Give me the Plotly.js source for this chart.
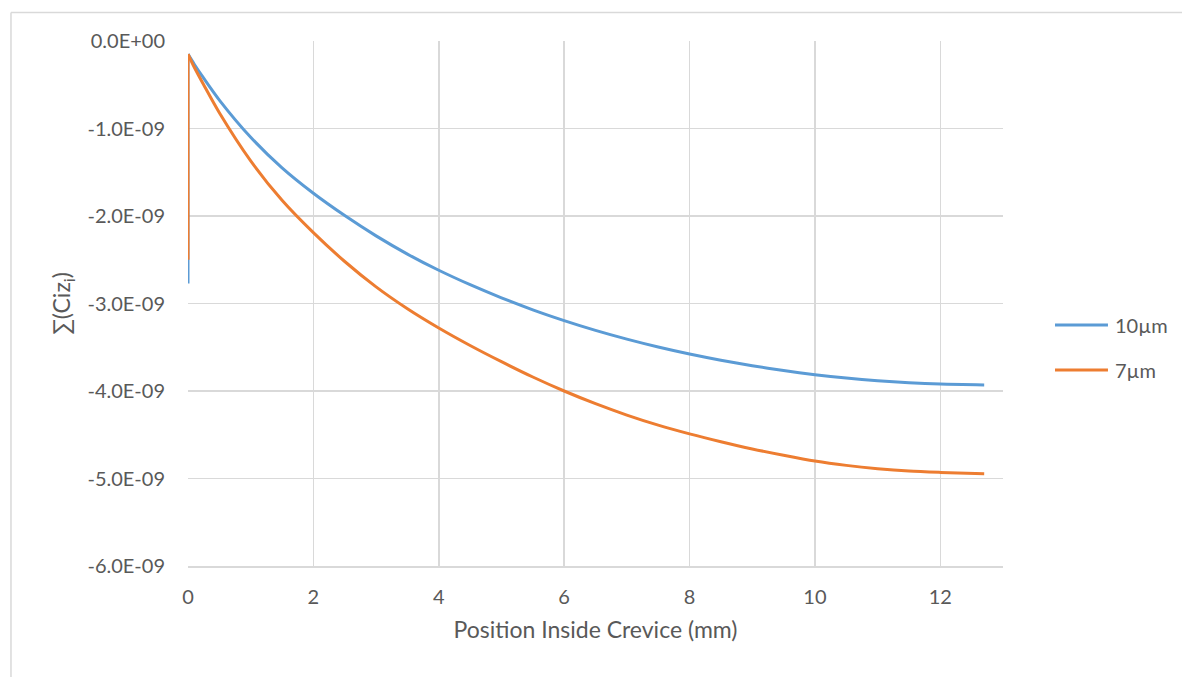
<!DOCTYPE html>
<html>
<head>
<meta charset="utf-8">
<script src="https://cdn.plot.ly/plotly-3.0.1.min.js"></script>
<style>
  html, body { margin: 0; padding: 0; background: #ffffff; }
  #chart { width: 1182px; height: 677px; }
</style>
</head>
<body>
<div id="chart"></div>
<script>
// Position along the crevice (mm); the first two points share x = 0 (mouth step)
const position = [0, 0, 0.1, 0.25, 0.5, 1, 1.5, 2, 2.5, 3, 3.5, 4, 4.5, 5, 5.5, 6, 6.5,
  7, 7.5, 8, 8.5, 9, 9.5, 10, 10.5, 11, 11.5, 12, 12.7];

// Sum of Ci*zi (×1E-9) for each gap width
const sum10um = [-2.77, -0.15, -0.265, -0.425, -0.675, -1.10, -1.45, -1.74, -1.995, -2.227,
  -2.435, -2.62, -2.785, -2.935, -3.072, -3.195, -3.307, -3.407, -3.497, -3.577, -3.648,
  -3.711, -3.766, -3.813, -3.852, -3.883, -3.906, -3.921, -3.93];
const sum7um = [-2.50, -0.15, -0.30, -0.50, -0.82, -1.37, -1.82, -2.19, -2.52, -2.81, -3.06,
  -3.28, -3.48, -3.665, -3.84, -4.00, -4.145, -4.275, -4.39, -4.49, -4.58, -4.662, -4.734,
  -4.80, -4.85, -4.888, -4.915, -4.93, -4.945];

const seriesNames = ['10µm', '7µm'];
const seriesColors = ['#5B9BD5', '#ED7D31'];
const yTickValues = [0, -1, -2, -3, -4, -5, -6];
const yTickLabels = ['0.0E+00', '-1.0E-09', '-2.0E-09', '-3.0E-09', '-4.0E-09', '-5.0E-09', '-6.0E-09'];
const scale = 1e-9;

const FONT = 'Lato, "Open Sans", "Liberation Sans", sans-serif';
const GREY_TEXT = '#595959';
const GRID = '#d9d9d9';

const seriesValues = [sum10um, sum7um];
const traces = [];
seriesValues.forEach((vals, i) => {
  const y = vals.map(v => v * scale);
  // vertical step at the mouth (first two samples, both at x = 0)
  traces.push({
    x: position.slice(0, 2), y: y.slice(0, 2), name: seriesNames[i],
    type: 'scatter', mode: 'lines', showlegend: false,
    line: { color: seriesColors[i], width: 3 }
  });
  // smooth profile along the crevice
  traces.push({
    x: position.slice(1), y: y.slice(1), name: seriesNames[i],
    type: 'scatter', mode: 'lines', showlegend: false,
    line: { color: seriesColors[i], width: 3, shape: 'spline', smoothing: 0.8 }
  });
});

// Legend drawn as a short line sample plus label for each series
const legendX0 = 1.0638, legendX1 = 1.1288, legendTextX = 1.135;
const legendRows = [0.459, 0.3733];
const legendShapes = seriesNames.map((n, i) => ({
  type: 'line', xref: 'paper', yref: 'paper',
  x0: legendX0, x1: legendX1, y0: legendRows[i], y1: legendRows[i],
  line: { color: seriesColors[i], width: 3 }
}));
const legendLabels = seriesNames.map((n, i) => ({
  xref: 'paper', yref: 'paper', x: legendTextX, y: legendRows[i],
  xanchor: 'left', yanchor: 'middle', showarrow: false, text: n,
  font: { family: FONT, size: 20, color: GREY_TEXT }
}));

const layout = {
  width: 1182, height: 677,
  margin: { l: 188, r: 179, t: 41, b: 111 },
  paper_bgcolor: '#ffffff', plot_bgcolor: '#ffffff',
  font: { family: FONT, color: GREY_TEXT, size: 20 },
  showlegend: false,
  xaxis: {
    range: [0, 13], dtick: 2, tick0: 0,
    showgrid: true, gridcolor: GRID, gridwidth: 1.5,
    zeroline: false, showline: true, linecolor: GRID, linewidth: 1.5,
    ticks: '', ticklabelstandoff: 12,
    tickfont: { family: FONT, size: 20, color: GREY_TEXT },
    title: { text: 'Position Inside Crevice (mm)', font: { family: FONT, size: 23, color: GREY_TEXT }, standoff: 15 }
  },
  yaxis: {
    range: [-6e-9, 0],
    tickmode: 'array', tickvals: yTickValues.map(v => v * scale), ticktext: yTickLabels,
    showgrid: true, gridcolor: GRID, gridwidth: 1.5,
    zeroline: false, showline: false,
    ticks: '', ticklabelstandoff: 22,
    tickfont: { family: FONT, size: 20, color: GREY_TEXT },
    title: { text: '∑(Ciz<sub>i</sub>)', font: { family: FONT, size: 23, color: GREY_TEXT }, standoff: 10 }
  },
  shapes: [
    // chart-area frame (top and left edges visible)
    { type: 'line', xref: 'paper', yref: 'paper', x0: -0.2172, x1: 2, y0: 1.0545, y1: 1.0545,
      line: { color: GRID, width: 1.5 } },
    { type: 'line', xref: 'paper', yref: 'paper', x0: -0.2172, x1: -0.2172, y0: 1.0545, y1: -1,
      line: { color: GRID, width: 1.5 } }
  ].concat(legendShapes),
  annotations: legendLabels
};

Plotly.newPlot('chart', traces, layout, { displayModeBar: false, staticPlot: true });
</script>
</body>
</html>
